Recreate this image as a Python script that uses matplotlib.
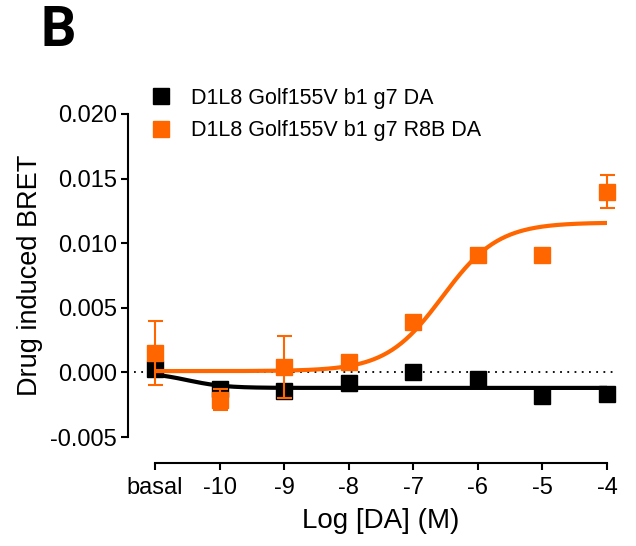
import numpy as np
import matplotlib
matplotlib.use("Agg")
import matplotlib.pyplot as plt

plt.rcParams["font.family"] = ["Liberation Sans", "DejaVu Sans"]

# log [DA]; "basal" is plotted at -11
log_da = [-11, -10, -9, -8, -7, -6, -5, -4]
tick_labels = ["basal", "-10", "-9", "-8", "-7", "-6", "-5", "-4"]

black_mean = [0.0003, -0.0013, -0.00145, -0.00085, 0.0000, -0.0005, -0.0018, -0.0017]
black_sem = [0.0003, 0.0002, 0.0004, 0.0006, 0.0001, 0.0001, 0.0001, 0.0001]
orange_mean = [0.0015, -0.0021, 0.0004, 0.0008, 0.0039, 0.0091, 0.0091, 0.0140]
orange_sem = [0.0025, 0.0008, 0.0024, 0.0002, 0.0003, 0.0002, 0.0001, 0.0013]

# fitted curve parameters (bottom, top, logEC50, hill)
black_fit = (0.0, -0.0012, -10.5, 1.5)
orange_fit = (0.0001, 0.0116, -6.55, 1.0)

BLACK = "#000000"
ORANGE = "#FF6600"


def sigmoid(x, p):
    bottom, top, ec, hill = p
    return bottom + (top - bottom) / (1 + 10 ** ((ec - x) * hill))


fig = plt.figure(figsize=(6.36, 5.46), dpi=100)
ax = fig.add_axes([155 / 636, 109 / 546, 452 / 636, 323 / 546])

xs = np.linspace(-11, -4, 300)
ax.plot([-11.33, -3.85], [0, 0], ls=(0, (1, 3)), color="black", lw=1.3, clip_on=False, zorder=1)

ax.plot(xs, sigmoid(xs, black_fit), color=BLACK, lw=3, zorder=2)
ax.errorbar(log_da, black_mean, yerr=black_sem, fmt="s", color=BLACK, ms=11.5,
            capsize=5.4, elinewidth=1.5, capthick=1.5, clip_on=False, zorder=3,
            label="D1L8 Golf155V b1 g7 DA")
ax.plot(xs, sigmoid(xs, orange_fit), color=ORANGE, lw=3, zorder=4)
ax.errorbar(log_da, orange_mean, yerr=orange_sem, fmt="s", color=ORANGE, ms=11.5,
            capsize=5.4, elinewidth=1.5, capthick=1.5, clip_on=False, zorder=5,
            label="D1L8 Golf155V b1 g7 R8B DA")

ax.set_xlim(-11, -4)
ax.set_ylim(-0.005, 0.020)
ax.set_xticks(log_da)
ax.set_xticklabels(tick_labels)
ax.set_yticks([-0.005, 0.0, 0.005, 0.010, 0.015, 0.020])
ax.set_yticklabels(["-0.005", "0.000", "0.005", "0.010", "0.015", "0.020"])

for s in ["top", "right"]:
    ax.spines[s].set_visible(False)
ax.spines["left"].set_position(("outward", 19.5))
ax.spines["bottom"].set_position(("outward", 19))
ax.spines["left"].set_linewidth(1.5)
ax.spines["bottom"].set_linewidth(1.5)
ax.tick_params(axis="both", width=1.5, length=5, labelsize=17, pad=3)
ax.tick_params(axis="x", pad=5)

ax.set_xlabel("Log [DA] (M)", fontsize=20, labelpad=6)
ax.set_ylabel("Drug induced BRET", fontsize=19.5, labelpad=5)

handles, labels = ax.get_legend_handles_labels()
handles = [h[0] for h in handles]
fig.legend(handles, labels, loc="upper left", bbox_to_anchor=(143 / 636, 1 - 79 / 546),
           frameon=False, fontsize=15.5, handlelength=0.9, handletextpad=0.95,
           labelspacing=0.55, borderaxespad=0)

fig.text(40 / 636, 1 - 46 / 546, "B", fontsize=40, fontweight="bold", family="Roboto")

fig.savefig("out.png", dpi=100)
